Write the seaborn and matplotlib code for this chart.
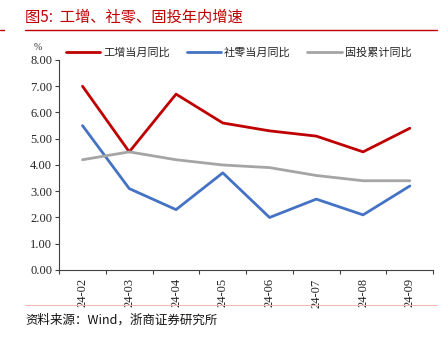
import matplotlib
matplotlib.use("Agg")
import matplotlib.pyplot as plt
from matplotlib.lines import Line2D
from matplotlib.ticker import FixedLocator
import seaborn as sns
import pandas as pd

months = ["24-02", "24-03", "24-04", "24-05", "24-06", "24-07", "24-08", "24-09"]
ind_yoy = [7.0, 4.5, 6.7, 5.6, 5.3, 5.1, 4.5, 5.4]
retail_yoy = [5.5, 3.1, 2.3, 3.7, 2.0, 2.7, 2.1, 3.2]
fai_cum_yoy = [4.2, 4.5, 4.2, 4.0, 3.9, 3.6, 3.4, 3.4]
series_names = ["工增当月同比", "社零当月同比", "固投累计同比"]
colors = ["#C00000", "#4472C4", "#A5A5A5"]

sns.set_style("ticks")
plt.rcParams['font.family'] = ['Liberation Serif', 'Noto Sans CJK SC', 'DejaVu Sans']

df = pd.DataFrame({
    "month": months * 3,
    "x": list(range(len(months))) * 3,
    "value": ind_yoy + retail_yoy + fai_cum_yoy,
    "series": [series_names[0]] * 8 + [series_names[1]] * 8 + [series_names[2]] * 8,
})

fig = plt.figure(figsize=(4.48, 3.46), dpi=100)
ax = fig.add_axes([0.132, 0.2197, 0.835, 0.6069])
sns.lineplot(data=df, x="x", y="value", hue="series", hue_order=series_names,
             palette=colors, linewidth=2.0, ax=ax, legend=False)

ax.set_xlim(-0.5, len(months) - 0.5)
ax.set_ylim(0, 8)
ax.set_yticks([i for i in range(9)])
ax.set_yticklabels([f"{i:.2f}" for i in range(9)], fontsize=9)
ax.set_xticks(range(len(months)))
ax.set_xticklabels(months, rotation=90, fontsize=9)
ax.tick_params(axis='x', which='major', length=0, pad=6)
ax.xaxis.set_minor_locator(FixedLocator([i - 0.5 for i in range(len(months) + 1)]))
ax.tick_params(axis='x', which='minor', length=3, color="#404040", width=0.8, direction='out')
ax.tick_params(axis='y', length=3, color="#404040", width=0.8, pad=2)
ax.set_xlabel("")
ax.set_ylabel("")
for s in ["top", "right"]:
    ax.spines[s].set_visible(False)
for s in ["left", "bottom"]:
    ax.spines[s].set_color("#404040")
    ax.spines[s].set_linewidth(0.8)

handles = [Line2D([], [], color=c, lw=2.0) for c in colors]
leg = fig.legend(handles, series_names, loc="center left", bbox_to_anchor=(0.125, 0.847),
                 ncol=3, frameon=False, handlelength=3.1, handletextpad=0.25,
                 columnspacing=1.5, prop={'family': ['Noto Sans CJK SC'], 'size': 8})

fig.text(0.085, 0.864, "%", fontsize=7, color="#333333", ha="center", va="center")

fig.text(0.056, 0.95, "图5:  工增、社零、固投年内增速", color="#C00000", fontsize=11,
         ha="left", va="center", family=['Noto Sans CJK SC'])
fig.add_artist(Line2D([0.056, 0.975], [0.913, 0.913], color="#C00000", lw=1.0))
fig.add_artist(Line2D([0.0, 0.008], [0.913, 0.913], color="#C00000", lw=1.0))
fig.add_artist(Line2D([0.056, 0.975], [0.118, 0.118], color="#F2B8B8", lw=0.8))
fig.text(0.056, 0.075, "资料来源：Wind，浙商证券研究所", fontsize=9, color="#111111",
         ha="left", va="center", family=['Noto Sans CJK SC', 'Liberation Serif'])

fig.savefig("out.png", dpi=100)
